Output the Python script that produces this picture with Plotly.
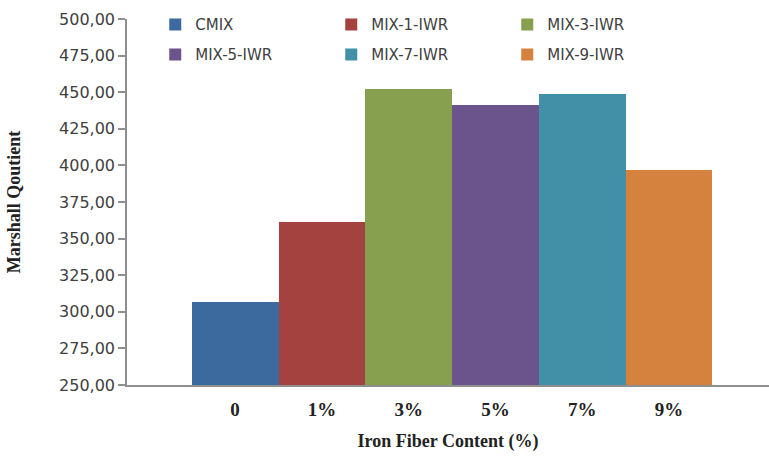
import plotly.graph_objects as go

# Marshall quotient by iron fiber content
mixes = ["CMIX", "MIX-1-IWR", "MIX-3-IWR", "MIX-5-IWR", "MIX-7-IWR", "MIX-9-IWR"]
fiber_labels = ["0", "1%", "3%", "5%", "7%", "9%"]
marshall_quotient = [307.0, 361.5, 452.5, 441.5, 449.0, 397.0]
colors = ["#3C6A9F", "#A4423F", "#87A04F", "#6B548C", "#4290A7", "#D5823F"]

y_ticks = [250 + 25 * i for i in range(11)]
y_ticktext = [f"{v:.2f}".replace(".", ",") for v in y_ticks]

fig = go.Figure()
for i, (name, val, col) in enumerate(zip(mixes, marshall_quotient, colors)):
    fig.add_trace(go.Bar(
        x=[i], y=[val], name=name, width=1.0,
        marker=dict(color=col, line=dict(width=0)),
        legend="legend" if i < 3 else "legend2",
    ))

legend_common = dict(
    orientation="h", xanchor="left", yanchor="middle",
    font=dict(family="DejaVu Sans", size=15, color="#404040"),
    entrywidth=131, bgcolor="rgba(0,0,0,0)", itemclick=False,
    traceorder="normal",
)

fig.update_layout(
    width=769, height=459,
    margin=dict(l=127, r=0, t=19, b=74),
    paper_bgcolor="white", plot_bgcolor="white",
    barmode="overlay", bargap=0,
    showlegend=True,
    legend=dict(x=0.044, y=0.984, **legend_common),
    legend2=dict(x=0.044, y=0.902, **legend_common),
    xaxis=dict(
        range=[-1.246, 6.153],
        tickmode="array", tickvals=list(range(len(fiber_labels))),
        ticktext=[f"<b>{t}</b>" for t in fiber_labels],
        tickfont=dict(family="Liberation Serif", size=19, color="#222222"),
        ticklabelstandoff=6,
        showline=True, linecolor="#8F8F8F", linewidth=1.5,
        ticks="", showgrid=False, zeroline=False,
        title=dict(text="<b>Iron Fiber Content (%)</b>",
                   font=dict(family="Liberation Serif", size=18, color="#222222"),
                   standoff=16),
    ),
    yaxis=dict(
        range=[250, 500],
        tickmode="array", tickvals=y_ticks, ticktext=y_ticktext,
        tickfont=dict(family="DejaVu Sans", size=16, color="#404040"),
        showline=True, linecolor="#8F8F8F", linewidth=1.5,
        ticks="outside", ticklen=7, tickcolor="#8F8F8F", tickwidth=1.5,
        showgrid=False, zeroline=False,
        title=dict(text="<b>Marshall Qoutient</b>",
                   font=dict(family="Liberation Serif", size=18, color="#222222"),
                   standoff=34),
    ),
)

fig.write_html("out.html")
